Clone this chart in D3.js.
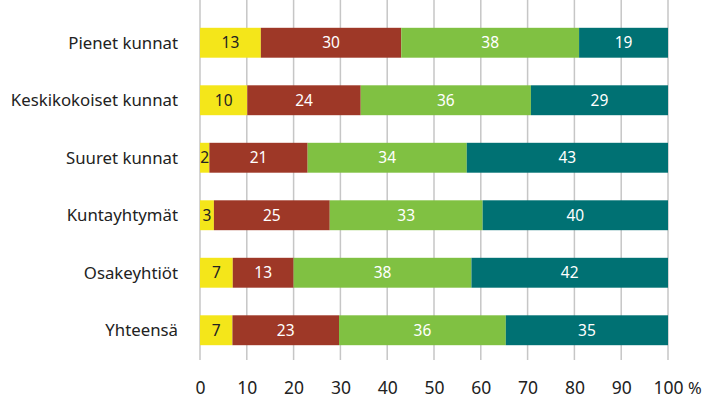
<!DOCTYPE html>
<html><head><meta charset="utf-8">
<script src="https://cdn.jsdelivr.net/npm/d3@7"></script>
<style>body{margin:0;background:#fff}svg{display:block}text{font-family:"Noto Sans",sans-serif}</style>
</head><body>
<svg id="c" width="707" height="400"></svg>
<script>
const categories = ["Pienet kunnat","Keskikokoiset kunnat","Suuret kunnat","Kuntayhtymät","Osakeyhtiöt","Yhteensä"];
const seriesKeys = ["s1","s2","s3","s4"];
const s1 = [13,10,2,3,7,7];
const s2 = [30,24,21,25,13,23];
const s3 = [38,36,34,33,38,36];
const s4 = [19,29,43,40,42,35];
const tickValues = [0,10,20,30,40,50,60,70,80,90,100];
const colors = ["#f4e61a","#9e3827","#80c142","#007173"];
const textColors = ["#222","#fff","#fff","#fff"];

const rows = categories.map((c,i)=>({cat:c,s1:s1[i],s2:s2[i],s3:s3[i],s4:s4[i]}));
const stack = d3.stack().keys(seriesKeys).offset(d3.stackOffsetExpand);
const layers = stack(rows);

const svg = d3.select("#c");
const x = d3.scaleLinear().domain([0,1]).range([200,668]);
const y = d3.scaleBand().domain(categories).range([14,359]).paddingInner(0.48).paddingOuter(0.24);

// gridlines
svg.append("g").selectAll("line").data(tickValues).join("line")
  .attr("x1",d=>x(d/100)).attr("x2",d=>x(d/100))
  .attr("y1",0).attr("y2",360)
  .attr("stroke","#c6c6c6").attr("stroke-width",1.5);

const g = svg.append("g");
layers.forEach((layer,li)=>{
  const lg = g.append("g");
  lg.selectAll("rect").data(layer).join("rect")
    .attr("x",d=>x(d[0])).attr("width",d=>x(d[1])-x(d[0]))
    .attr("y",d=>y(d.data.cat)).attr("height",y.bandwidth())
    .attr("fill",colors[li]);
  lg.selectAll("text").data(layer).join("text")
    .attr("x",d=>(x(d[0])+x(d[1]))/2)
    .attr("y",d=>y(d.data.cat)+y.bandwidth()/2)
    .attr("dy","0.35em").attr("text-anchor","middle")
    .attr("font-size",15.5).attr("fill",textColors[li])
    .text(d=>d.data[seriesKeys[li]]);
});

// category labels
svg.append("g").selectAll("text").data(categories).join("text")
  .attr("x",178).attr("y",d=>y(d)+y.bandwidth()/2).attr("dy","0.35em")
  .attr("text-anchor","end").attr("font-size",16.8).attr("fill","#222")
  .text(d=>d);

// x axis
const ax = svg.append("g").attr("transform","translate(0,382)")
  .call(d3.axisBottom(x).tickValues(tickValues.map(v=>v/100)).tickFormat(d=>Math.round(d*100)).tickSize(0).tickPadding(0));
ax.select(".domain").remove();
ax.selectAll("text").attr("font-size",17.5).attr("fill","#222").attr("font-family","Noto Sans, sans-serif");
svg.append("text").attr("x",x(1)+20).attr("y",394.4).attr("font-size",16.5).attr("fill","#222").text("%");
</script>
</body></html>
